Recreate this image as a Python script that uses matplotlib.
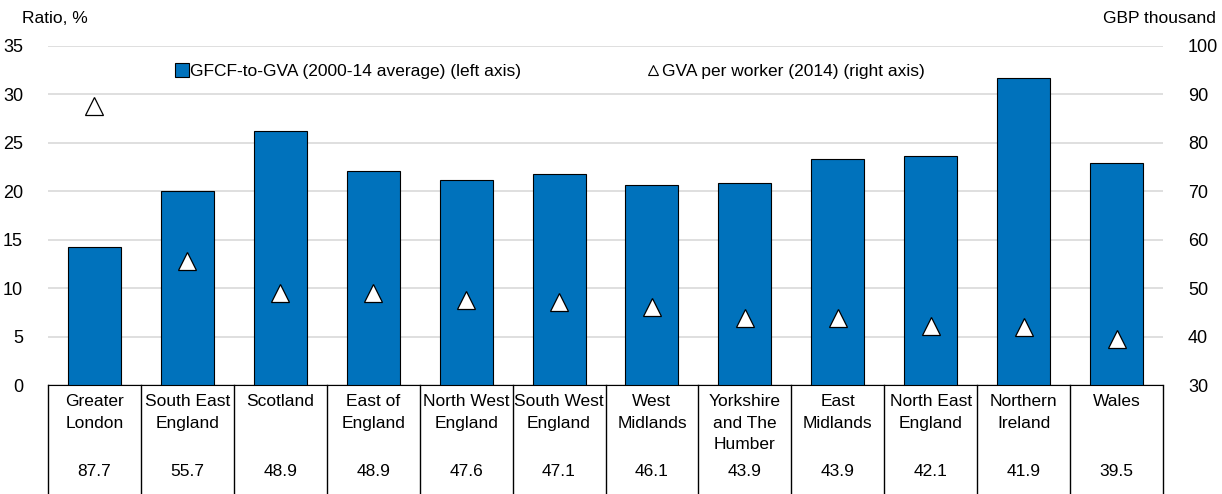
import numpy as np
import matplotlib
matplotlib.use("Agg")
import matplotlib.pyplot as plt
from matplotlib import transforms
from matplotlib.lines import Line2D

# data
regions = ["Greater\nLondon", "South East\nEngland", "Scotland", "East of\nEngland",
           "North West\nEngland", "South West\nEngland", "West\nMidlands",
           "Yorkshire\nand The\nHumber", "East\nMidlands", "North East\nEngland",
           "Northern\nIreland", "Wales"]
gfcf_to_gva = [14.3, 20.0, 26.2, 22.1, 21.2, 21.8, 20.6, 20.9, 23.3, 23.6, 31.7, 22.9]
gva_per_worker = [87.7, 55.7, 48.9, 48.9, 47.6, 47.1, 46.1, 43.9, 43.9, 42.1, 41.9, 39.5]

plt.rcParams['font.family'] = ['Liberation Sans', 'DejaVu Sans']
FS = 12.5
plt.rcParams['font.size'] = FS

BLUE = '#0072BC'

fig = plt.figure(figsize=(12.22, 4.94), dpi=100)
ax = fig.add_axes([0.0393, 0.2206, 0.9124, 0.6863])
ax2 = ax.twinx()

x = np.arange(len(regions))
ax.bar(x, gfcf_to_gva, width=0.57, color=BLUE, edgecolor='black', linewidth=0.8, zorder=3)
ax2.plot(x, gva_per_worker, linestyle='none', marker='^', markersize=13,
         markerfacecolor='white', markeredgecolor='black', markeredgewidth=0.9, zorder=4)

ax.set_xlim(-0.5, len(regions) - 0.5)
ax.set_ylim(0, 35)
ax.set_yticks(range(0, 36, 5))
ax2.set_ylim(30, 100)
ax2.set_yticks(range(30, 101, 10))
ax.grid(axis='y', color='#d9d9d9', linewidth=1.2, zorder=0)
ax.set_axisbelow(True)
ax.set_xticks([])

for a in (ax, ax2):
    for s in a.spines.values():
        s.set_visible(False)
    a.tick_params(length=0, labelsize=FS + 0.5)
ax.tick_params(axis='y', pad=18)
ax2.tick_params(axis='y', pad=18)

ax.spines['bottom'].set_visible(True)
ax.spines['bottom'].set_color('black')

# table below the axis
trans = transforms.blended_transform_factory(ax.transData, fig.transFigure)
y_top = 0.2206
for b in np.arange(-0.5, len(regions), 1.0):
    ax.add_line(Line2D([b, b], [y_top, 0.0], transform=trans, color='black',
                       linewidth=1.0, clip_on=False))
for i, (name, val) in enumerate(zip(regions, gva_per_worker)):
    ax.text(i, 0.202, name, transform=trans, ha='center', va='top',
            fontsize=FS, linespacing=1.55)
    ax.text(i, 0.045, f"{val:.1f}", transform=trans, ha='center', va='center', fontsize=FS)

# axis titles
fig.text(0.018, 0.962, "Ratio, %", ha='left', va='center', fontsize=FS)
fig.text(0.995, 0.962, "GBP thousand", ha='right', va='center', fontsize=FS)

# legend
handles = [Line2D([], [], linestyle='none', marker='s', markersize=10,
                  markerfacecolor=BLUE, markeredgecolor='black', markeredgewidth=0.8),
           Line2D([], [], linestyle='none', marker='^', markersize=7,
                  markerfacecolor='white', markeredgecolor='black', markeredgewidth=0.8)]
labels = ["GFCF-to-GVA (2000-14 average) (left axis)", "GVA per worker (2014) (right axis)"]
ax.legend(handles, labels, loc='upper left', bbox_to_anchor=(0.109, 0.967), ncol=2,
          frameon=False, handlelength=0.6, handletextpad=0.2, columnspacing=7.3,
          fontsize=FS, borderaxespad=0)

fig.savefig("out.png", dpi=100)
